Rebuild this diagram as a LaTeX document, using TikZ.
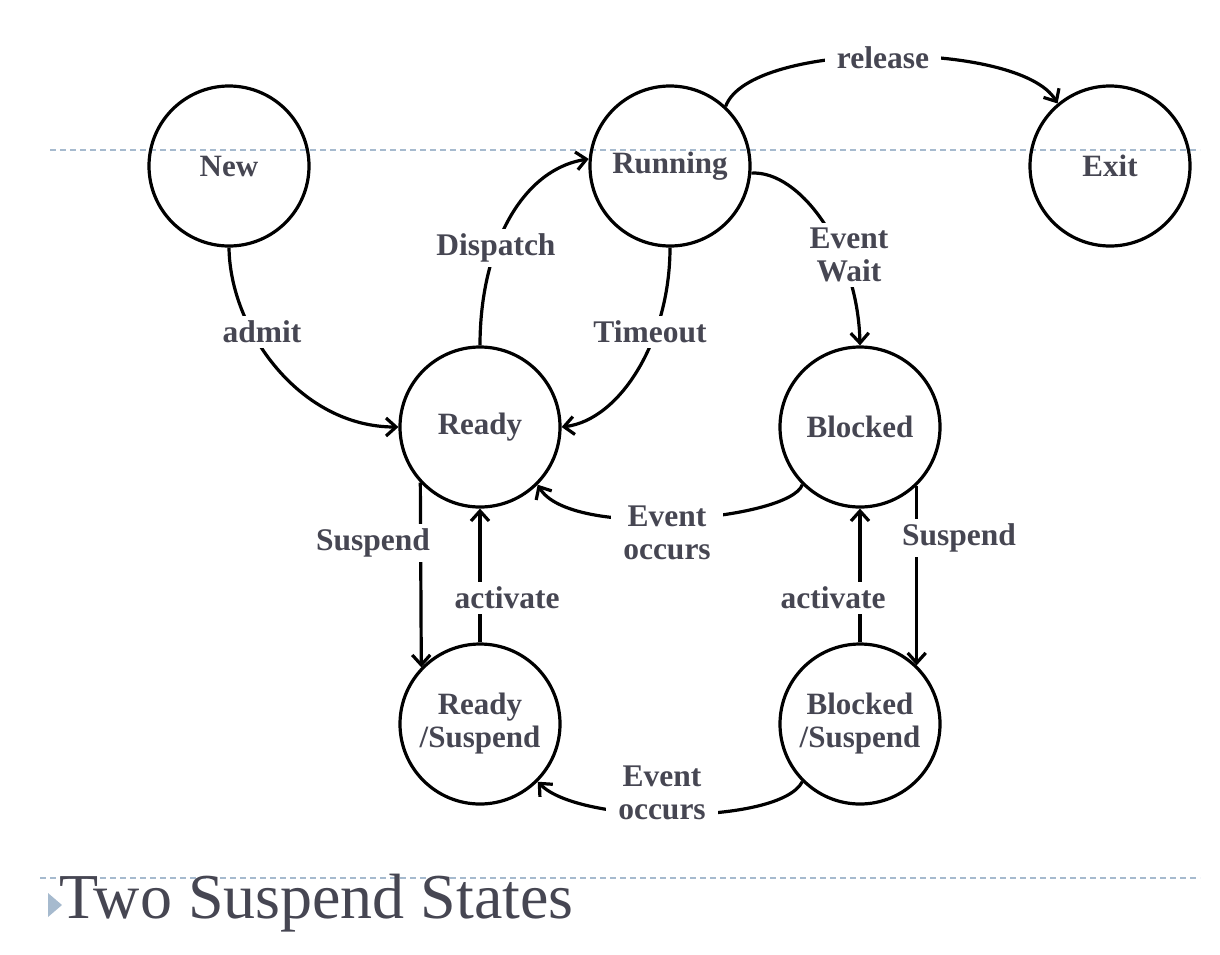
\documentclass[tikz,border=0pt]{standalone}
\usepackage{fontspec}
\setmainfont{Liberation Serif}
\usetikzlibrary{arrows.meta}
\definecolor{txt}{RGB}{70,70,82}
\definecolor{sepcol}{RGB}{166,186,206}
\begin{document}
\begin{tikzpicture}[x=1pt,y=-1pt,
  state/.style={circle,draw=black,line width=3.2pt,minimum size=160pt,inner sep=0pt,align=center,
    font=\fontsize{31}{33}\selectfont\bfseries,text=txt},
  lbl/.style={fill=white,inner xsep=12pt,inner ysep=5pt,align=center,font=\fontsize{31.5}{33}\selectfont\bfseries,text=txt},
  conn/.style={line width=3.2pt,-{Straight Barb[length=10pt,width=18pt]}},
  sepline/.style={draw=sepcol,line width=1.2pt,dash pattern=on 6pt off 4pt}]
\useasboundingbox (0,0) rectangle (1220,954);
\draw[sepline] (50,150) -- (1200,150);
\draw[sepline] (40,878) -- (1200,878);
\fill[sepcol] (48,893) -- (48,917) -- (62,905) -- cycle;
\node[anchor=base west,inner sep=0pt,text=txt,font=\fontsize{64}{70}\selectfont] (title) at (59,918) {Two Suspend States};

\node[state] (new) at (229,166) {New};
\node[state] (run) at (670,166) {Running};
\node[state] (exit) at (1110,166) {Exit};
\node[state] (rd) at (480,427) {Ready};
\node[state] (bl) at (860,427) {Blocked};
\node[state] (rs) at (480,724) {Ready\\/Suspend};
\node[state] (bs) at (860,724) {Blocked\\/Suspend};

\draw[conn] (run.47) .. controls (750,40) and (1020,40) .. (exit.130);
\draw[conn] (new.270) .. controls (230,330) and (300,427) .. (rd.180);
\draw[conn] (rd.90) .. controls (480,250) and (520,170) .. (run.175);
\draw[conn] (run.270) .. controls (670,340) and (620,420) .. (rd.0);
\draw[conn] (run.-5) .. controls (800,170) and (858,250) .. (bl.90);
\draw[conn] (bl.225) .. controls (790,520) and (570,540) .. (rd.-45);
\draw[conn] (bs.225) .. controls (780,825) and (580,825) .. (rs.-45);
\draw[conn] (rd.223.5) -- (rs.136.5);
\draw[conn] (rs.90) -- (rd.270);
\draw[conn] (bl.-46.6) -- (bs.46.6);
\draw[conn] (bs.90) -- (bl.270);

\node[lbl] (l1) at (883,58) {release};
\node[lbl] (l2) at (262,332) {admit};
\node[lbl] (l3) at (496,248) {Dispatch};
\node[lbl] (l4) at (650,332) {Timeout};
\node[lbl] (l5) at (849,255) {Event\\Wait};
\node[lbl] (l6) at (667,533) {Event\\occurs};
\node[lbl] (l7) at (373,543) {Suspend};
\node[lbl] (l8) at (507,598) {activate};
\node[lbl] (l9) at (959,538) {Suspend};
\node[lbl] (l10) at (833,598) {activate};
\node[lbl] (l11) at (662,793) {Event\\occurs};
\end{tikzpicture}
\end{document}
